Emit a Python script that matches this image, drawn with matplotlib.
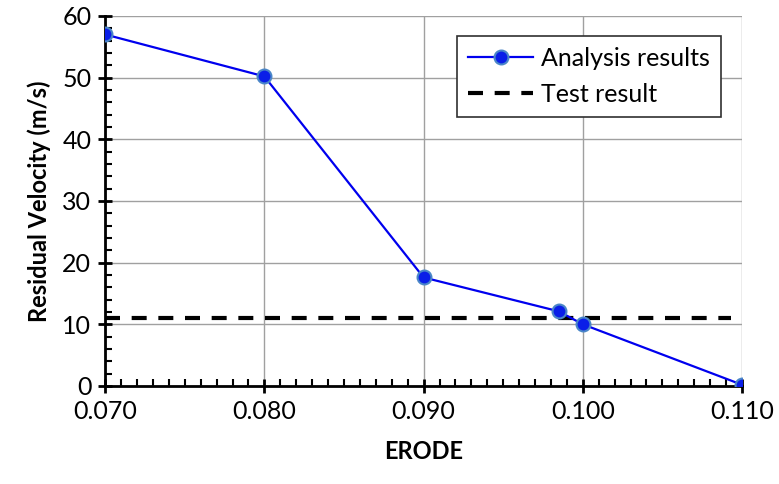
import matplotlib
matplotlib.use("Agg")
import matplotlib.pyplot as plt
from matplotlib.ticker import MultipleLocator

erode = [0.070, 0.080, 0.090, 0.0985, 0.100, 0.110]
velocity = [57.0, 50.2, 17.6, 12.1, 10.0, 0.2]
test_x = [0.070, 0.1093]
test_v = [11.0, 11.0]
xticks = [0.070, 0.080, 0.090, 0.100, 0.110]
xticklabels = ['0.070', '0.080', '0.090', '0.100', '0.110']

plt.rcParams['font.family'] = ['Lato', 'DejaVu Sans']

fig = plt.figure(figsize=(7.79, 4.84), dpi=100)
ax = fig.add_axes([0.135, 0.2025, 0.8175, 0.7645])

ax.plot(erode, velocity, color='#0000ee', lw=1.6, marker='o', ms=10,
        markerfacecolor='#0a1ee8', markeredgecolor='#4a86c8', markeredgewidth=1.5,
        label='Analysis results', zorder=3)
ax.plot(test_x, test_v, color='black', lw=3, dashes=(3.6, 2.8), label='Test result', zorder=2)

ax.set_xlim(0.070, 0.110)
ax.set_ylim(0, 60)
ax.set_xticks(xticks)
ax.set_xticklabels(xticklabels)
ax.yaxis.set_major_locator(MultipleLocator(10))
ax.xaxis.set_minor_locator(MultipleLocator(0.001))
ax.yaxis.set_minor_locator(MultipleLocator(2))
ax.grid(True, which='major', color='#a0a0a0', lw=1)
ax.set_axisbelow(True)

for s in ['top', 'right']:
    ax.spines[s].set_visible(False)
for s in ['left', 'bottom']:
    ax.spines[s].set_linewidth(2)
ax.tick_params(which='major', direction='inout', length=10, width=2, labelsize=18, pad=5)
ax.tick_params(which='minor', direction='in', length=5, width=1.5)

ax.set_xlabel('ERODE', fontsize=17, fontweight='bold', labelpad=12)
ax.set_ylabel('Residual Velocity (m/s)', fontsize=17, fontweight='bold', labelpad=8)

leg = ax.legend(loc='upper right', bbox_to_anchor=(0.967, 0.946), fontsize=18, frameon=True,
                fancybox=False, edgecolor='#303030', framealpha=1, handlelength=2.6,
                borderpad=0.45, labelspacing=0.5, handletextpad=0.3, borderaxespad=0)
leg.get_frame().set_linewidth(1.2)

fig.savefig('out.png', dpi=100)
